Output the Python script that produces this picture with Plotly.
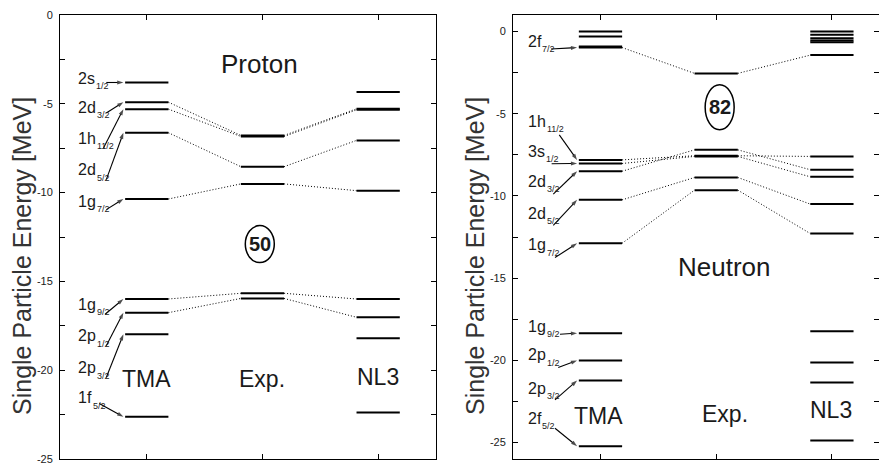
import plotly.graph_objects as go

# Model columns
MODELS = ["TMA", "Exp.", "NL3"]
MODEL_X = [1, 2, 3]

# Proton single-particle levels [MeV]
P_STATES = ["2s", "2d", "1h", "2d", "1g", "1g", "2p", "2p", "1f"]
P_SUBS = ["1/2", "3/2", "11/2", "5/2", "7/2", "9/2", "1/2", "3/2", "5/2"]
P_TMA = [-3.80, -4.91, -5.30, -6.63, -10.36, -15.99, -16.76, -17.98, -22.62]
P_EXP = [None, -6.78, -6.84, -8.54, -9.51, -15.67, -15.96, None, None]
P_NL3 = [-4.34, -5.28, -5.34, -7.06, -9.89, -15.99, -17.02, -18.20, -22.38]

# Neutron single-particle levels [MeV]
N_STATES = ["2f", "1h", "3s", "2d", "2d", "1g", "1g", "2p", "2p", "2f"]
N_SUBS = ["7/2", "11/2", "1/2", "3/2", "5/2", "7/2", "9/2", "1/2", "3/2", "5/2"]
N_TMA = [-0.98, -7.81, -8.03, -8.50, -10.24, -12.88, -18.35, -20.01, -21.23, -25.22]
N_EXP = [-2.55, -7.56, -7.60, -7.20, -8.88, -9.65, None, None, None, None]
N_NL3 = [-1.44, -7.60, -8.84, -8.41, -10.50, -12.29, -18.23, -20.13, -21.35, -24.88]
# unlabeled levels near threshold
N_TMA_TOP = [0.0, -0.30, -0.92]
N_NL3_TOP = [0.0, -0.20, -0.41, -0.55, -0.65]

# Label placement: (label y, arrow tail x, arrow tail y)
P_LABEL_POS = [(-3.56, 0.65, -3.80), (-5.19, 0.65, -5.52), (-6.93, 0.626, -7.49),
               (-8.71, 0.65, -9.27), (-10.49, 0.65, -10.96), (-16.29, 0.64, -16.85),
               (-18.07, 0.65, -18.63), (-19.85, 0.65, -20.41), (-21.54, 0.589, -21.87)]
N_LABEL_POS = [(-0.61, 0.572, -1.07), (-5.47, 0.644, -6.29), (-7.30, 0.578, -8.05),
               (-9.12, 0.592, -9.89), (-11.05, 0.592, -11.80), (-12.98, 0.607, -13.75),
               (-17.94, 0.65, -18.41), (-19.67, 0.635, -20.44), (-21.70, 0.607, -22.40),
               (-23.52, 0.607, -24.13)]

HALF = 0.187
FONT = "Liberation Sans, Arial, Helvetica, sans-serif"
INK = "#1a1a1a"
LABEL_SIZE = 16
SUB_SIZE = 9
# advance widths (em) of the glyphs used in the orbital labels
GLYPH_EM = {"1": 0.556, "2": 0.556, "3": 0.556, "s": 0.5, "d": 0.556, "h": 0.556,
            "g": 0.556, "p": 0.556, "f": 0.278}

fig = go.Figure()


def level_trace(values_by_model, xa, ya):
    xs, ys = [], []
    for mx, vals in zip(MODEL_X, values_by_model):
        for v in vals:
            if v is None:
                continue
            xs += [mx - HALF, mx + HALF, None]
            ys += [v, v, None]
    fig.add_trace(go.Scatter(x=xs, y=ys, mode="lines", xaxis=xa, yaxis=ya,
                             line=dict(color="black", width=2),
                             hoverinfo="skip", showlegend=False))


def connector_trace(tma, exp, nl3, xa, ya):
    xs, ys = [], []
    for a, b, c in zip(tma, exp, nl3):
        if b is None:
            continue
        xs += [1 + HALF, 2 - HALF, None, 2 + HALF, 3 - HALF, None]
        ys += [a, b, None, b, c, None]
    fig.add_trace(go.Scatter(x=xs, y=ys, mode="lines", xaxis=xa, yaxis=ya,
                             line=dict(color="black", width=1, dash="1px,2px"),
                             hoverinfo="skip", showlegend=False))


# Proton panel
connector_trace(P_TMA, P_EXP, P_NL3, "x", "y")
level_trace([P_TMA, P_EXP, P_NL3], "x", "y")
# Neutron panel
connector_trace(N_TMA, N_EXP, N_NL3, "x2", "y2")
level_trace([N_TMA + N_TMA_TOP, N_EXP, N_NL3 + N_NL3_TOP], "x2", "y2")


def state_labels(states, subs, levels, positions, label_x, xa, ya):
    for st, sb, (ly, _, _) in zip(states, subs, positions):
        fig.add_annotation(x=label_x, y=ly, xref=xa, yref=ya, text=st,
                           showarrow=False, xanchor="left", yanchor="middle",
                           font=dict(family=FONT, size=LABEL_SIZE, color=INK))
        shift = sum(GLYPH_EM[c] for c in st) * LABEL_SIZE + 1
        fig.add_annotation(x=label_x, y=ly, xref=xa, yref=ya, text=sb,
                           showarrow=False, xanchor="left", yanchor="middle",
                           xshift=shift, yshift=-8,
                           font=dict(family=FONT, size=SUB_SIZE, color=INK))
    # pointer arrows from each label to its TMA level
    head_x = 1 - HALF - 0.015
    for lv, (_, tx, ty) in zip(levels, positions):
        fig.add_trace(go.Scatter(x=[tx, head_x], y=[ty, lv], mode="lines+markers",
                                 xaxis=xa, yaxis=ya,
                                 line=dict(color="black", width=1.1),
                                 marker=dict(symbol="arrow", size=[0, 6.5], angleref="previous",
                                             color="black", line=dict(width=0)),
                                 hoverinfo="skip", showlegend=False))


state_labels(P_STATES, P_SUBS, P_TMA, P_LABEL_POS, 0.39, "x", "y")
state_labels(N_STATES, N_SUBS, N_TMA, N_LABEL_POS, 0.356, "x2", "y2")

# Model names
for name, mx, y in zip(MODELS, MODEL_X, [-20.5, -20.47, -20.41]):
    fig.add_annotation(x=mx, y=y, xref="x", yref="y", text=name, showarrow=False,
                       font=dict(family=FONT, size=23, color=INK))
for name, mx, y in zip(MODELS, [0.98, 2.08, 2.99], [-23.36, -23.28, -23.03]):
    fig.add_annotation(x=mx, y=y, xref="x2", yref="y2", text=name, showarrow=False,
                       font=dict(family=FONT, size=23, color=INK))

# Panel titles
fig.add_annotation(x=1.977, y=-2.75, xref="x", yref="y", text="Proton", showarrow=False,
                   font=dict(family=FONT, size=26, color=INK))
fig.add_annotation(x=2.076, y=-14.34, xref="x2", yref="y2", text="Neutron", showarrow=False,
                   font=dict(family=FONT, size=26, color=INK))

# Magic numbers
for num, mx, my, xr, yr, h in [("50", 1.977, -12.9, "x", "y", 18.5),
                               ("82", 2.03, -4.61, "x2", "y2", 22.5)]:
    fig.add_shape(type="circle", xref=xr, yref=yr, xsizemode="pixel", ysizemode="pixel",
                  xanchor=mx, yanchor=my, x0=-14.5, x1=14.5, y0=-h, y1=h,
                  line=dict(color="black", width=1.5))
    fig.add_annotation(x=mx, y=my, xref=xr, yref=yr, text=f"<b>{num}</b>", showarrow=False,
                       font=dict(family=FONT, size=20, color=INK))

# Rotated axis titles
for px in [22 / 879, 475 / 879]:
    fig.add_annotation(x=px, y=1 - 256 / 468, xref="paper", yref="paper",
                       xanchor="center", yanchor="middle",
                       text="Single Particle Energy [MeV]", textangle=-90, showarrow=False,
                       font=dict(family=FONT, size=25, color="#333333"))

ticks = [0, -2.5, -5, -7.5, -10, -12.5, -15, -17.5, -20, -22.5, -25]
ticktext = [str(int(t)) if t % 5 == 0 else "" for t in ticks]

axis_common = dict(showline=True, linecolor="black", linewidth=1, mirror="ticks",
                   ticks="inside", ticklen=5, tickcolor="black", showgrid=False,
                   zeroline=False, automargin=False)

fig.update_layout(
    width=879, height=468,
    margin=dict(l=0, r=0, t=0, b=0, pad=0, autoexpand=False),
    paper_bgcolor="white", plot_bgcolor="white",
    showlegend=False,
    xaxis=dict(domain=[60 / 879, 436 / 879], range=[0.25, 3.5], tickvals=MODEL_X,
               showticklabels=False, anchor="y", **axis_common),
    yaxis=dict(domain=[1 - 459 / 468, 1 - 15 / 468], range=[-25, 0], tickvals=ticks,
               ticktext=ticktext, anchor="x", ticklabelstandoff=4,
               tickfont=dict(family=FONT, size=11, color=INK), **axis_common),
    xaxis2=dict(domain=[513 / 879, 1.0], range=[0.244, 3.407], tickvals=MODEL_X,
                showticklabels=False, anchor="y2", **axis_common),
    yaxis2=dict(domain=[1 - 459 / 468, 1 - 15 / 468], range=[-26, 1], tickvals=ticks,
                ticktext=ticktext, anchor="x2", ticklabelstandoff=4,
                tickfont=dict(family=FONT, size=11, color=INK), **axis_common),
)

fig.write_html("out.html", post_script="document.body.style.margin='0px';")
